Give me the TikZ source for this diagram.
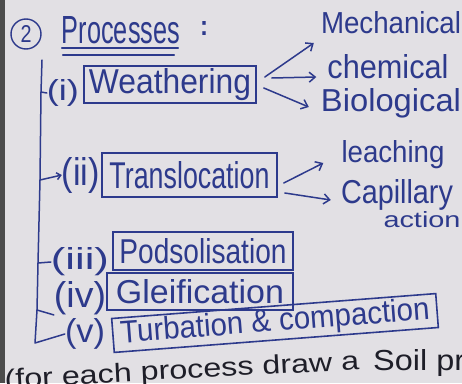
\documentclass[tikz,border=0pt]{standalone}
\usepackage{fontspec}
\setmainfont{Liberation Sans}
\usetikzlibrary{arrows.meta,calc}
\definecolor{ink}{RGB}{45,58,140}
\definecolor{paper}{RGB}{226,224,228}
\definecolor{pen}{RGB}{30,30,40}
\newcommand{\hw}[3]{\resizebox{#1pt}{#2pt}{#3}}
\begin{document}
\begin{tikzpicture}[x=1pt,y=-1pt,
  inkline/.style={draw=ink, line width=1.5pt, line cap=round, line join=round},
  procbox/.style={draw=ink, line width=1.6pt, inner sep=0pt, text=ink, anchor=center},
  lbl/.style={text=ink, inner sep=0pt},
  arr/.style={inkline, -{Straight Barb[length=6pt,width=10pt]}},
  sarr/.style={inkline, -{Straight Barb[length=4pt,width=7pt]}},
]
\clip (0,0) rectangle (462,383);
\fill[paper] (0,0) rectangle (462,383);
\fill[black!70] (0,0) rectangle (5,383);

% title
\node[circle, draw=ink, line width=1.4pt, minimum size=30pt, inner sep=0pt, text=ink] (num) at (26,34) {\hw{11}{17}{2}};
\node[lbl] (title) at (121,30) {\hw{118}{27}{Processes}};
\node[lbl] (colon) at (204,28) {\hw{8}{14}{\bfseries :}};
\draw[inkline] ($(title.south west)+(0,4)$) -- ($(title.south east)+(-2,4)$);
\draw[inkline] ($(title.south west)+(1,11)$) -- ($(title.south east)+(-6,11)$);

% boxes
\node[procbox, minimum width=172pt, minimum height=37pt] (W) at (170,84.5) {\hw{162}{25}{Weathering}};
\node[procbox, minimum width=175pt, minimum height=44pt] (T) at (189.5,175) {\hw{160}{27}{Translocation}};
\node[procbox, minimum width=180pt, minimum height=38pt] (P) at (203,251) {\hw{167}{25}{Podsolisation}};
\node[procbox, minimum width=186pt, minimum height=37pt] (G) at (200,291.5) {\hw{168}{24}{Gleification}};
\node[procbox, minimum width=325pt, minimum height=34pt, rotate=4.4] (TC) at (275,323) {\hw{310}{23}{Turbation \& compaction}};

% labels
\node[lbl] (l1) at (63,93) {\hw{32}{21}{(i)}};
\node[lbl] (l2) at (81,175) {\hw{38}{28}{(ii)}};
\node[lbl] (l3) at (80,262) {\hw{58}{22}{(iii)}};
\node[lbl] (l4) at (80,298) {\hw{52}{26}{(iv)}};
\node[lbl] (l5) at (85,334) {\hw{40}{24}{(v)}};

% spine
\coordinate (s0) at (42,60);
\coordinate (s1) at (41,92);
\coordinate (s2) at (40,180);
\coordinate (s3) at (38,263);
\coordinate (s4) at (37,310);
\coordinate (s5) at (35,343);
\draw[inkline] (s0) -- (s1) -- (s2) -- (s3) -- (s4) -- (s5) -- (l5.west);
\draw[inkline] (s1) -- (l1.west);
\draw[sarr] (s2) -- (l2.west);
\draw[inkline] (s3) -- (l3.west);
\draw[inkline] (s4) -- (l4.south west);

% right-hand texts
\node[lbl] (mech) at (391,23) {\hw{140}{22}{Mechanical}};
\node[lbl] (chem) at (388,67) {\hw{121}{24}{chemical}};
\node[lbl] (bio) at (391,103) {\hw{140}{23}{Biological}};
\node[lbl] (leach) at (393,155) {\hw{103}{22}{leaching}};
\node[lbl] (cap) at (397,195) {\hw{112}{24}{Capillary}};
\node[lbl] (act) at (422,220) {\hw{77}{16}{action}};

% arrows
\draw[arr] ($(W.east)+(8,-7.5)$) -- ($(mech.west)+(-7,20)$);
\draw[arr] ($(W.east)+(15,-6.5)$) -- ($(chem.west)+(-11,10)$);
\draw[arr] ($(W.east)+(7,3.5)$) -- ($(bio.west)+(-12,4)$);
\draw[arr] ($(T.east)+(6,8)$) -- ($(leach.west)+(-18,8)$);
\draw[arr] ($(T.east)+(7,18)$) -- ($(cap.west)+(-10,5)$);

% bottom note
\node[text=pen, inner sep=0pt, rotate=3] (note) at (182,372) {\hw{355}{19}{(for each process draw a}};
\node[text=pen, inner sep=0pt, anchor=base west] (note2) at (373,370) {\hw{110}{21}{Soil pro}};
\end{tikzpicture}
\end{document}
